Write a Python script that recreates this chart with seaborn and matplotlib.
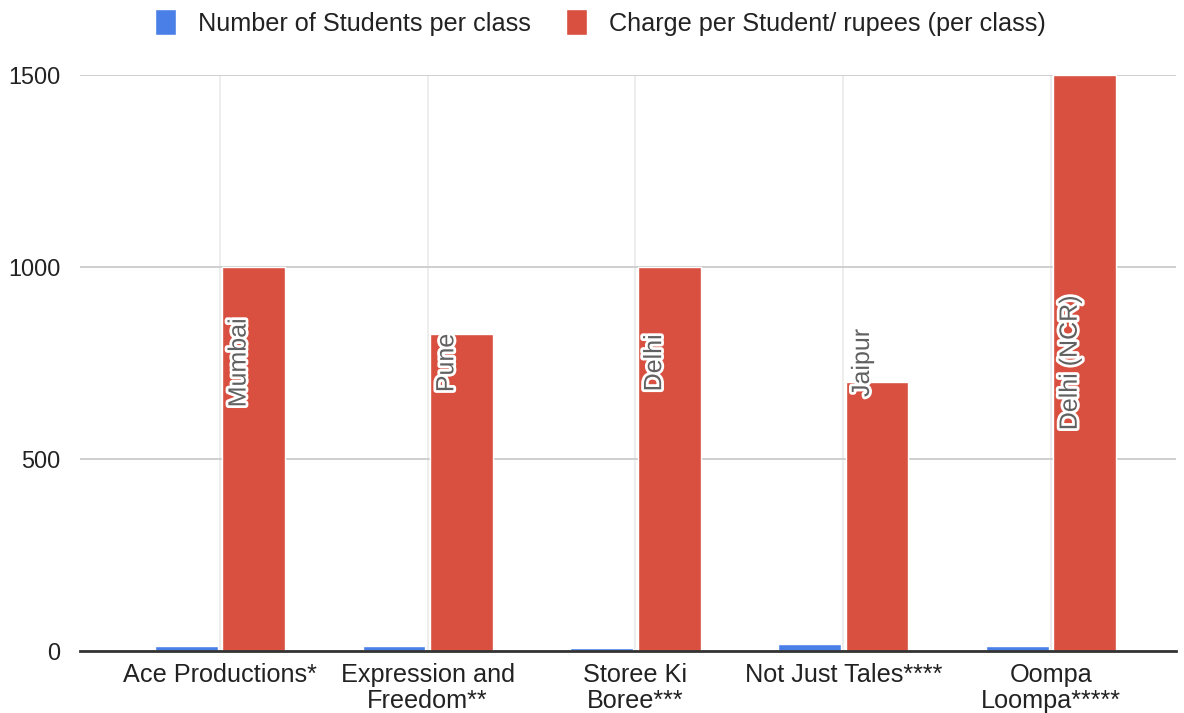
import pandas as pd
import seaborn as sns
import matplotlib.pyplot as plt
import matplotlib.patheffects as pe
from matplotlib.patches import Patch

# Data
schools = ["Ace Productions*", "Expression and\nFreedom**", "Storee Ki\nBoree***",
           "Not Just Tales****", "Oompa\nLoompa*****"]
students = [12, 12, 7, 18, 12]
charge = [1000, 825, 1000, 700, 1500]
cities = ["Mumbai", "Pune", "Delhi", "Jaipur", "Delhi (NCR)"]

STUDENTS = "Number of Students per class"
CHARGE = "Charge per Student/ rupees (per class)"
BLUE = "#4a7fe8"
RED = "#d95040"

df = pd.DataFrame({
    "school": schools * 2,
    "series": [STUDENTS] * len(schools) + [CHARGE] * len(schools),
    "value": students + charge,
})

sns.set_style("white")
plt.rcParams["font.family"] = ["Liberation Sans", "DejaVu Sans"]

fig = plt.figure(figsize=(11.84, 7.13), dpi=100)
ax = fig.add_axes([0.0676, 0.087, 0.9254, 0.808])

sns.barplot(data=df, x="school", y="value", hue="series",
            palette=[BLUE, RED], width=0.65, gap=0.07,
            saturation=1, legend=False, ax=ax)

# city annotations inside the red bars
for i, city in enumerate(cities):
    ax.text(i + 0.09, 750, city, rotation=90, ha="center", va="center",
            fontsize=18, color="#616161",
            path_effects=[pe.withStroke(linewidth=4, foreground="white")])

ax.set_xlim(-0.673, 4.6)
ax.set_ylim(0, 1500)
ax.set_yticks([0, 500, 1000, 1500])
ax.set_xlabel("")
ax.set_ylabel("")

ax.grid(True, axis="y", color="#cccccc", linewidth=1.3)
ax.grid(True, axis="x", color="#e8e8e8", linewidth=1.1)
ax.set_axisbelow(True)

for side in ["top", "right", "left"]:
    ax.spines[side].set_visible(False)
ax.spines["bottom"].set_color("#333333")
ax.spines["bottom"].set_linewidth(2)
ax.spines["bottom"].set_zorder(5)

ax.tick_params(axis="both", length=0, labelsize=18.2, colors="#222222")
ax.tick_params(axis="y", pad=14, labelsize=16.8)
ax.tick_params(axis="x", pad=9)
for lbl in ax.get_xticklabels():
    lbl.set_linespacing(1.1)

handles = [Patch(facecolor=BLUE, label=STUDENTS), Patch(facecolor=RED, label=CHARGE)]
fig.legend(handles=handles, loc="center", bbox_to_anchor=(0.507, 0.969), ncol=2,
           frameon=False, fontsize=18.2, handlelength=0.85, handleheight=1.25,
           handletextpad=0.85, columnspacing=1.4, labelcolor="#222222")

fig.savefig("out.png", dpi=100)
